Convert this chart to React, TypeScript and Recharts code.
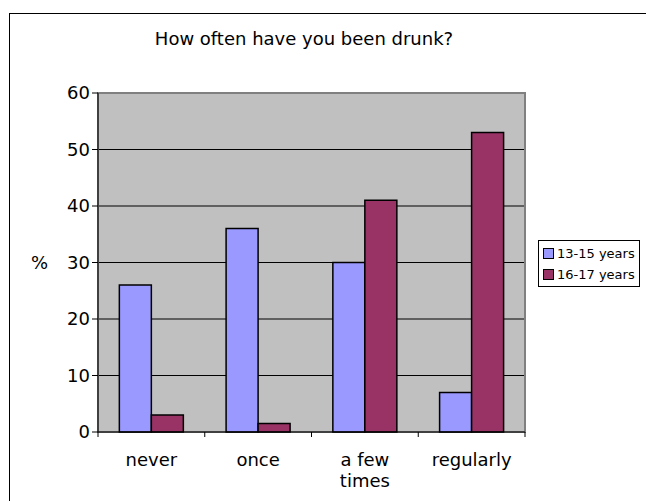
import React from "react";
import {
  BarChart,
  Bar,
  XAxis,
  YAxis,
  CartesianGrid,
  ReferenceArea,
} from "recharts";

const categories = ["never", "once", "a few times", "regularly"];
const young = [26, 36, 30, 7];
const older = [3, 1.5, 41, 53];
const yTicks = [0, 10, 20, 30, 40, 50, 60];
const seriesNames = ["13-15 years", "16-17 years"];
const colors = ["#9999FF", "#993366"];

const data = categories.map((name, i) => ({ name, young: young[i], older: older[i] }));

const font = "Verdana, 'DejaVu Sans', sans-serif";

const CategoryTick = (props: any) => {
  const { x, y, payload, index, width } = props;
  const band = width / categories.length;
  const words = String(payload.value) === "a few times" ? ["a few", "times"] : [String(payload.value)];
  return (
    <g>
      <line x1={x - band / 2} y1={y - 8} x2={x - band / 2} y2={y - 3} stroke="#000" />
      {index === categories.length - 1 && (
        <line x1={x + band / 2} y1={y - 8} x2={x + band / 2} y2={y - 3} stroke="#000" />
      )}
      <text x={x} y={y + 26} textAnchor="middle" fontSize={18} fontFamily={font} fill="#000">
        {words.map((w, i) => (
          <tspan key={w} x={x} dy={i === 0 ? 0 : 21}>
            {w}
          </tspan>
        ))}
      </text>
    </g>
  );
};

const LegendBox = () => (
  <div
    style={{
      position: "absolute",
      left: 538,
      top: 240,
      border: "1px solid #000",
      background: "#fff",
      width: 102,
      height: 47,
      boxSizing: "border-box",
      padding: "2px 0 0 4px",
      fontFamily: font,
      fontSize: 13,
    }}
  >
    {seriesNames.map((s, i) => (
      <div key={s} style={{ display: "flex", alignItems: "center", height: 21 }}>
        <span
          style={{
            display: "inline-block",
            width: 11,
            height: 11,
            background: colors[i],
            border: "1.5px solid #000",
            marginRight: 3,
            boxSizing: "border-box",
          }}
        />
        {s}
      </div>
    ))}
  </div>
);

export default function App() {
  return (
    <div style={{ position: "absolute", left: 0, top: 0, width: 646, height: 501, overflow: "hidden", background: "#fff" }}>
      <div
        style={{
          position: "absolute",
          left: 9,
          top: 13,
          width: 700,
          height: 600,
          border: "1px solid #000",
        }}
      />
      <div
        style={{
          position: "absolute",
          left: 0,
          width: 608,
          top: 28,
          textAlign: "center",
          fontFamily: font,
          fontSize: 18,
        }}
      >
        How often have you been drunk?
      </div>
      <div style={{ position: "absolute", left: 31, top: 252, fontFamily: font, fontSize: 18 }}>%</div>
      <div style={{ position: "absolute", left: 0, top: 0 }}>
        <BarChart
          width={646}
          height={501}
          data={data}
          margin={{ top: 93, right: 121, bottom: 0, left: 0 }}
          barCategoryGap="20%"
          barGap={0}
        >
          <CartesianGrid vertical={false} stroke="#000" fill="#C0C0C0" fillOpacity={1} />
          <ReferenceArea y1={0} y2={60} stroke="#808080" strokeWidth={2} fill="none" />
          <XAxis
            dataKey="name"
            tickLine={false}
            axisLine={{ stroke: "#000" }}
            interval={0}
            tick={<CategoryTick />}
            height={69}
          />
          <YAxis
            width={98}
            domain={[0, 60]}
            ticks={yTicks}
            interval={0}
            axisLine={{ stroke: "#000" }}
            tickLine={{ stroke: "#000" }}
            tickSize={6}
            tick={{ fill: "#000", fontSize: 18, fontFamily: font }}
          />
          <Bar dataKey="young" name={seriesNames[0]} fill={colors[0]} stroke="#000" strokeWidth={1.5} isAnimationActive={false} />
          <Bar dataKey="older" name={seriesNames[1]} fill={colors[1]} stroke="#000" strokeWidth={1.5} isAnimationActive={false} />
        </BarChart>
      </div>
      <LegendBox />
    </div>
  );
}
